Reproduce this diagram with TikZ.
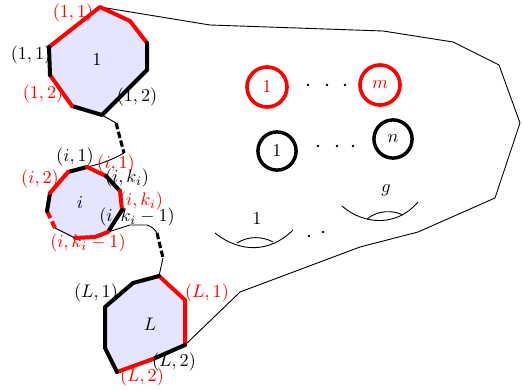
\documentclass[tikz,border=0pt]{standalone}
\begin{document}
\begin{tikzpicture}[x=0.55pt,y=-0.55pt,
  edgeR/.style={line width=2.2pt,red,line cap=round,line join=round},
  edgeB/.style={line width=2.2pt,black,line cap=round,line join=round},
  thinln/.style={line width=0.5pt},
  dashln/.style={line width=1.7pt,dash pattern=on 3.5pt off 1.5pt},
  lab/.style={inner sep=0pt},
  rlab/.style={inner sep=0pt,text=red},
  polyfill/.style={fill=blue!10,draw=none},
  redcirc/.style={circle,draw=red,line width=2pt,minimum size=22pt,inner sep=0pt,text=red},
  blkcirc/.style={circle,draw=black,line width=1.9pt,minimum size=21pt,inner sep=0pt},
  dotmark/.style={circle,fill=black,inner sep=0pt,minimum size=1.4pt}]
\useasboundingbox (0,0) rectangle (524,389);
% ---------- polygon 1 vertices
\coordinate (p1a) at (100,7);
\coordinate (p1b) at (130,21);
\coordinate (p1c) at (147,43);
\coordinate (p1d) at (147,70);
\coordinate (p1e) at (102,115);
\coordinate (p1f) at (72,106);
\coordinate (p1g) at (50,75);
\coordinate (p1h) at (49,47);
\coordinate (p1i) at (72,29);
% ---------- polygon i vertices
\coordinate (pia) at (87,167);
\coordinate (pib) at (106,176);
\coordinate (pic) at (120,191);
\coordinate (pid) at (122,210);
\coordinate (pie) at (108,232);
\coordinate (pif) at (95,237);
\coordinate (pig) at (75,238);
\coordinate (pih) at (55,228);
\coordinate (pii) at (47,211);
\coordinate (pij) at (50,193);
\coordinate (pik) at (68,172);
% ---------- polygon L vertices
\coordinate (pLa) at (159,276);
\coordinate (pLb) at (185,300);
\coordinate (pLc) at (185,345);
\coordinate (pLd) at (153,359);
\coordinate (pLe) at (117,372);
\coordinate (pLf) at (105,348);
\coordinate (pLg) at (105,307);
\coordinate (pLh) at (133,283);
% ---------- labels partly hidden by the polygons
\node[lab] (l11b) at (31,55) {$(1,1)$};
\node[rlab] (likr) at (141,201) {$(i,k_i)$};
% ---------- fills
\fill[blue!10] (p1a)--(p1b)--(p1c)--(p1d)--(p1e)--(p1f)--(p1g)--(p1h)--(p1i)--cycle;
\fill[blue!10] (pia)--(pib)--(pic)--(pid)--(pie)--(pif)--(pig)--(pih)--(pii)--(pij)--(pik)--cycle;
\fill[blue!10] (pLa)--(pLb)--(pLc)--(pLd)--(pLe)--(pLf)--(pLg)--(pLh)--cycle;
% ---------- outer surface
\draw[thinln,line join=round] (p1a) -- (210,25) -- (383,31) -- (453,42) -- (499,65) -- (520,123)
  -- (495,198) -- (418,232) -- (360,247) -- (240,292) -- (pLc);
% ---------- connectors
\coordinate (c1) at (116,123);
\coordinate (c2) at (124,153);
\coordinate (c3) at (157,233);
\coordinate (c4) at (163,258);
\draw[thinln] (p1e) -- (c1);
\draw[dashln] (c1) -- (c2);
\draw[thinln] (c2) to[bend left=8] (pia);
\draw[thinln] (pie) -- (130,225) -- (147,225) to[bend left=20] (c3);
\draw[dashln] (c3) -- (c4);
\draw[thinln] (c4) -- (pLa);
% ---------- polygon 1 edges
\draw[edgeR] (p1h) -- (p1i) -- (p1a) -- (p1b) -- (p1c);
\draw[edgeB] (p1c) -- (p1d) -- (p1e) -- (p1f);
\draw[edgeR] (p1f) -- (p1g);
\draw[edgeB] (p1g) -- (p1h);
% ---------- polygon i edges
\draw[edgeB] (pik) -- (pia);
\draw[edgeR] (pia) -- (pib);
\draw[edgeB] (pib) -- (pic);
\draw[edgeR] (pic) -- (pid);
\draw[edgeB] (pid) -- (pie);
\draw[edgeR] (pie) -- (pif) -- (pig);
\draw[thinln] (pig) -- (pih);
\draw[edgeR,line cap=butt,dash pattern=on 4pt off 2pt] (pih) -- (pii);
\draw[edgeB] (pii) -- (pij);
\draw[edgeR] (pij) -- (pik);
% ---------- polygon L edges
\draw[edgeR] (pLa) -- (pLb) -- (pLc);
\draw[edgeB] (pLc) -- (pLd);
\draw[edgeR] (pLd) -- (pLe);
\draw[edgeB] (pLe) -- (pLf) -- (pLg) -- (pLh) -- (pLa);
% ---------- polygon names
\node[lab] (n1) at (97,60) {$1$};
\node[lab] (ni) at (80,203) {$i$};
\node[lab] (nL) at (150,324) {$L$};
% ---------- vertex labels
\node[rlab] (l11r) at (73,13) {$(1,1)$};
\node[rlab] (l12r) at (43,94) {$(1,2)$};
\node[lab] (l12b) at (137,97) {$(1,2)$};
\node[lab] (li1b) at (75,157) {$(i,1)$};
\node[rlab] (li1r) at (116,164) {$(i,1)$};
\node[rlab] (li2r) at (40,179) {$(i,2)$};
\node[lab] (likb) at (127,178) {$(i,k_i)$};
\node[lab] (likmb) at (137,217) {$(i,k_i-1)$};
\node[rlab] (likmr) at (88,243) {$(i,k_i-1)$};
\node[lab] (lL1b) at (96,293) {$(L,1)$};
\node[rlab] (lL1r) at (207,293) {$(L,1)$};
\node[lab] (lL2b) at (174,362) {$(L,2)$};
\node[rlab] (lL2r) at (142,377) {$(L,2)$};
% ---------- boundary circles
\node[redcirc] (r1) at (267,87) {$1$};
\node[redcirc] (rm) at (380,85) {$m$};
\node[blkcirc] (b1) at (277,151) {$1$};
\node[blkcirc] (bn) at (393,139) {$n$};
\node[dotmark] (d1) at (308,85) {};
\node[dotmark] (d2) at (327,85) {};
\node[dotmark] (d3) at (345,85) {};
\node[dotmark] (d4) at (318,146) {};
\node[dotmark] (d5) at (337,146) {};
\node[dotmark] (d6) at (353,146) {};
% ---------- handles
\draw[thinln] (215,233) .. controls (240,253) and (270,253) .. (293,230);
\draw[thinln] (237,243) .. controls (248,236) and (262,236) .. (273,242);
\node[lab] (h1) at (257,219) {$1$};
\draw[thinln] (342,206) .. controls (365,226) and (398,226) .. (418,202);
\draw[thinln] (367,219) .. controls (378,210) and (393,210) .. (403,215);
\node[lab] (hg) at (386,190) {$g$};
\node[dotmark] (d7) at (309,236) {};
\node[dotmark] (d8) at (323,232) {};
\end{tikzpicture}
\end{document}
